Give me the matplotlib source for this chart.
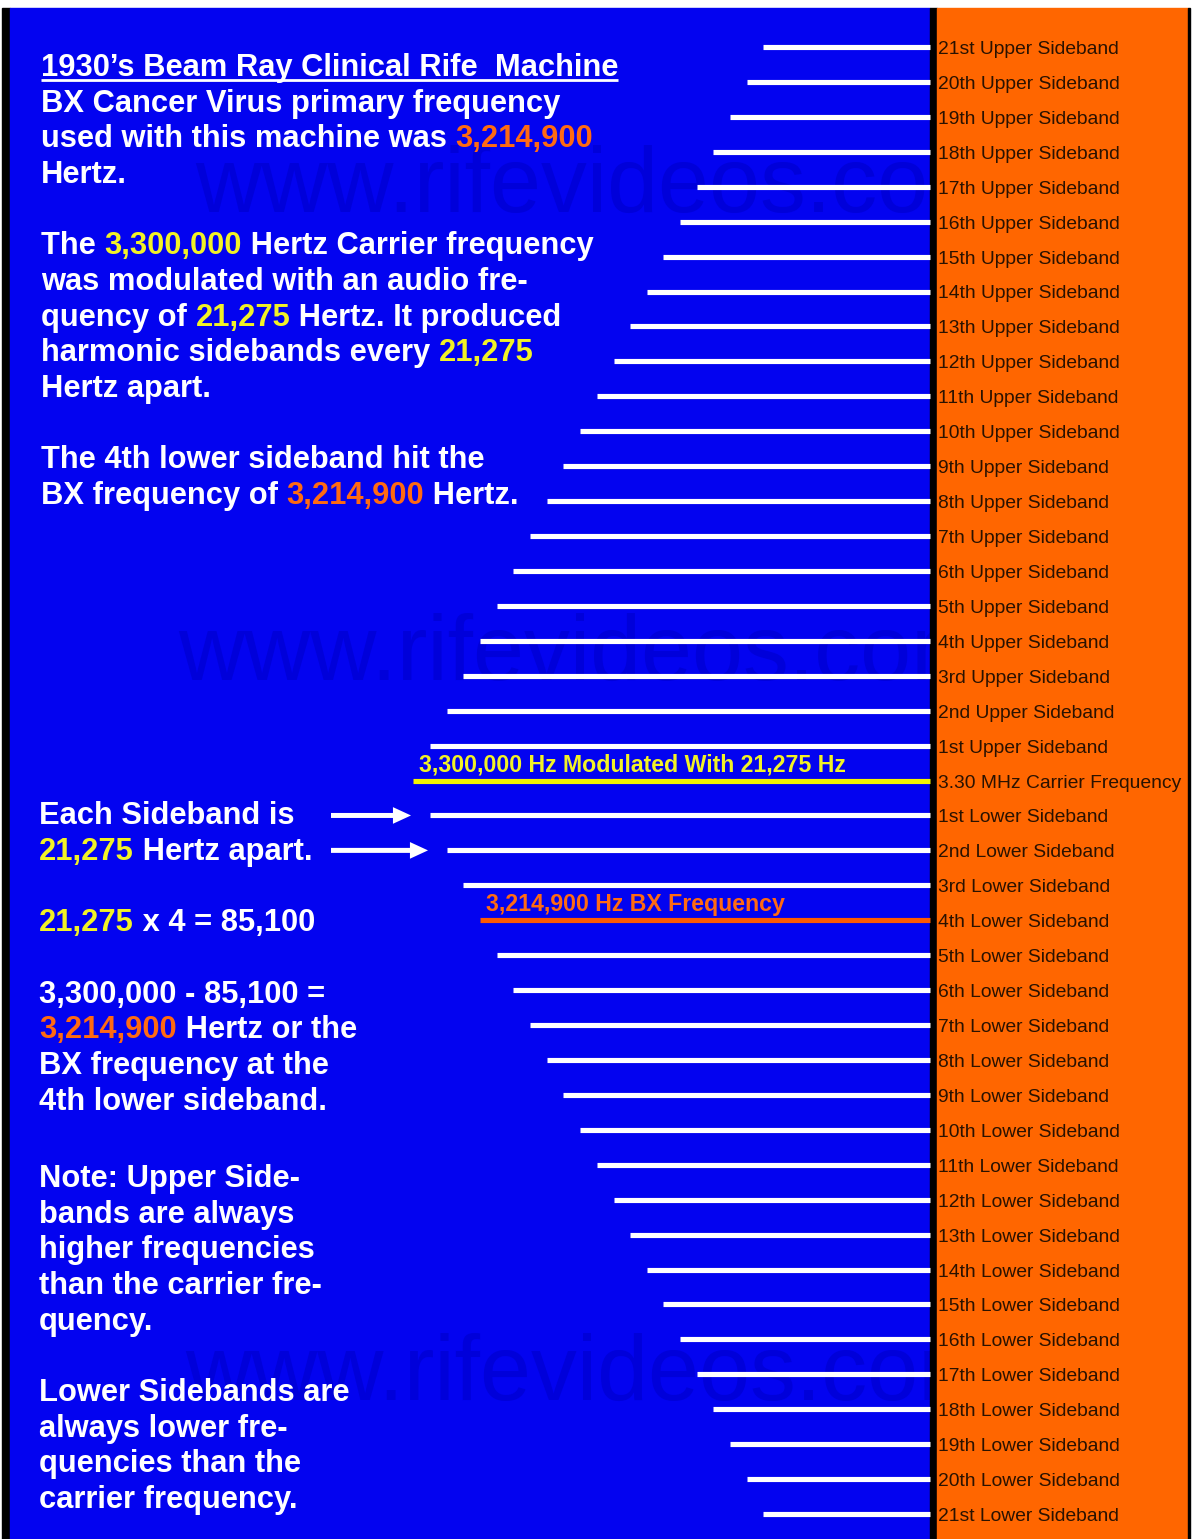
import matplotlib
matplotlib.use("Agg")
import matplotlib.pyplot as plt
from matplotlib.patches import Rectangle
from matplotlib.font_manager import FontProperties

W, H, DPI = 1193, 1539, 100

# ---------------- data ----------------
ordinals = ["1st", "2nd", "3rd", "4th", "5th", "6th", "7th", "8th", "9th", "10th",
            "11th", "12th", "13th", "14th", "15th", "16th", "17th", "18th", "19th",
            "20th", "21st"]
upper_labels = [o + " Upper Sideband" for o in reversed(ordinals)]   # top -> carrier
carrier_label = "3.30 MHz Carrier Frequency"
lower_labels = [o + " Lower Sideband" for o in ordinals]             # carrier -> bottom

# bar lengths (pixels of line length, leftwards from the divider)
upper_len = [167, 183, 200, 217, 233, 250, 267, 283, 300, 316, 333,
             350, 367, 383, 400, 417, 433, 450, 467, 483, 500]       # 21st .. 1st upper
carrier_len = 517
lower_len = [500, 483, 467, 450, 433, 417, 400, 383, 367, 350, 333,
             316, 300, 283, 267, 250, 233, 217, 200, 183, 167]       # 1st .. 21st lower

carrier_text = "3,300,000 Hz Modulated With 21,275 Hz"
bx_text = "3,214,900 Hz BX Frequency"
bx_index = 4   # 4th lower sideband

# left panel text: (x, centre-y, [(segment, colour-key), ...])
left_lines = [
    (41, 65, [("1930\u2019s Beam Ray Clinical Rife  Machine", "w")]),
    (41, 101, [("BX Cancer Virus primary frequency", "w")]),
    (41, 136, [("used with this machine was ", "w"), ("3,214,900", "o")]),
    (41, 172, [("Hertz.", "w")]),
    (41, 243, [("The ", "w"), ("3,300,000", "y"), (" Hertz Carrier frequency", "w")]),
    (41, 279, [("was modulated with an audio fre-", "w")]),
    (41, 315, [("quency of ", "w"), ("21,275", "y"), (" Hertz. It produced", "w")]),
    (41, 350, [("harmonic sidebands every ", "w"), ("21,275", "y")]),
    (41, 386, [("Hertz apart.", "w")]),
    (41, 457, [("The 4th lower sideband hit the", "w")]),
    (41, 493, [("BX frequency of ", "w"), ("3,214,900", "o"), (" Hertz.", "w")]),
    (39, 813, [("Each Sideband is", "w")]),
    (39, 849, [("21,275", "y"), (" Hertz apart.", "w")]),
    (39, 920, [("21,275", "y"), (" x 4 = 85,100", "w")]),
    (39, 992, [("3,300,000 - 85,100 =", "w")]),
    (39, 1027, [("3,214,900", "o"), (" Hertz or the", "w")]),
    (39, 1063, [("BX frequency at the", "w")]),
    (39, 1099, [("4th lower sideband.", "w")]),
    (39, 1176, [("Note: Upper Side-", "w")]),
    (39, 1212, [("bands are always", "w")]),
    (39, 1247, [("higher frequencies", "w")]),
    (39, 1283, [("than the carrier fre-", "w")]),
    (39, 1319, [("quency.", "w")]),
    (39, 1390, [("Lower Sidebands are", "w")]),
    (39, 1426, [("always lower fre-", "w")]),
    (39, 1461, [("quencies than the", "w")]),
    (39, 1497, [("carrier frequency.", "w")]),
]
watermarks = [(195, 212), (178, 680), (185, 1400)]

# ---------------- styles ----------------
BLUE = "#0303F0"
ORANGE = "#FF6600"
YELLOW = "#F2F226"
ORANGE_TXT = "#FF6A12"
LABEL_DARK = "#2A1200"
WATER = "#0000DA"
cols = {"w": "white", "y": YELLOW, "o": ORANGE_TXT}

fig = plt.figure(figsize=(W / DPI, H / DPI), dpi=DPI, facecolor="white")

# background panels (pixel coordinates)
bg = fig.add_axes([0, 0, 1, 1])
bg.set_xlim(0, W)
bg.set_ylim(H, 0)
bg.axis("off")
bg.add_patch(Rectangle((2, 8), 8, H - 8, color="black", zorder=0))
blue_rect = Rectangle((10, 8), 920, H - 8, color=BLUE, zorder=0)
bg.add_patch(blue_rect)
for (wx, wy) in watermarks:
    wt = bg.text(wx, wy, "www.rifevideos.com", fontsize=66, color=WATER,
                 family="Liberation Sans", va="baseline", ha="left", zorder=0.5)
    wt.set_clip_path(blue_rect)
bg.add_patch(Rectangle((930, 8), 7, H - 8, color="black", zorder=1))
bg.add_patch(Rectangle((937, 8), 251, H - 8, color=ORANGE, zorder=1))
bg.add_patch(Rectangle((1188, 8), 2, H - 8, color="black", zorder=1))

# rich text on the left
renderer = fig.canvas.get_renderer()
fp = FontProperties(family="Liberation Sans", weight="bold", size=22.2)
bar_w = renderer.get_text_width_height_descent("|", fp, ismath=False)[0]


def text_width(s):
    return renderer.get_text_width_height_descent(s + "|", fp, ismath=False)[0] - bar_w


for (x0, yc, segs) in left_lines:
    base = yc + 11
    prefix = ""
    for (s, c) in segs:
        x = x0 + (text_width(prefix) if prefix else 0)
        bg.text(x, base, s, fontproperties=fp, color=cols[c],
                va="baseline", ha="left", zorder=3)
        prefix += s
# title underline
t0 = left_lines[0]
bg.plot([t0[0], t0[0] + text_width(t0[2][0][0])], [t0[1] + 15, t0[1] + 15],
        color="white", lw=2.0, solid_capstyle="butt", zorder=3)

# ---------------- bars ----------------
labels = upper_labels + [carrier_label] + lower_labels
lengths = upper_len + [carrier_len] + lower_len
n_up = len(upper_len)
rows = list(range(len(labels)))
colors = ["white"] * len(labels)
colors[n_up] = "#F5F500"
colors[n_up + bx_index] = "#FF5A00"

row0_px, row_step = 47.0, 34.93
ax = fig.add_axes([0, 0, 1, 1])
ax.patch.set_alpha(0)
ax.set_xlim(930, 930 - W)
ax.set_ylim((H - row0_px) / row_step, -row0_px / row_step)
ax.axis("off")

ax.hlines(rows, 0, lengths, colors=colors, linewidth=3.7, capstyle="butt", zorder=4)

for r, lab in zip(rows, labels):
    ax.text(-8, r + 0.2, lab, ha="left", va="baseline", fontsize=13.9,
            family="Liberation Sans", color=LABEL_DARK, zorder=5)

lab_fp = FontProperties(family="Liberation Sans", weight="bold", size=16.7)
ax.text(carrier_len - 6, n_up - 0.27, carrier_text, fontproperties=lab_fp,
        color=YELLOW, ha="left", va="baseline", zorder=5)
ax.text(lengths[n_up + bx_index] - 6, n_up + bx_index - 0.26, bx_text,
        fontproperties=lab_fp, color=ORANGE_TXT, ha="left", va="baseline", zorder=5)

# arrows pointing at the first two lower sidebands
for k in (1, 2):
    r = n_up + k
    ax.annotate("", xy=(lengths[r] + 19, r), xytext=(599, r),
                arrowprops=dict(arrowstyle="simple,head_length=1.3,head_width=1.2,tail_width=0.36",
                                mutation_scale=10, color="white", shrinkA=0, shrinkB=0, lw=0),
                zorder=5)

fig.savefig("out.png", dpi=DPI, facecolor="white")
